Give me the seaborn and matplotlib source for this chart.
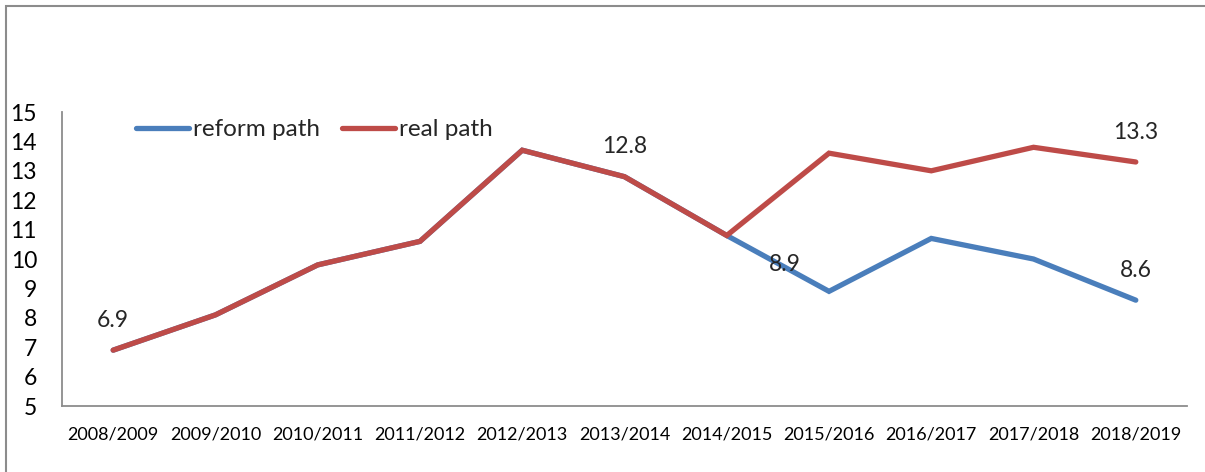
import matplotlib
matplotlib.use("Agg")
import matplotlib.pyplot as plt
import seaborn as sns
import pandas as pd
from matplotlib.patches import Rectangle

years = ["2008/2009", "2009/2010", "2010/2011", "2011/2012", "2012/2013", "2013/2014",
         "2014/2015", "2015/2016", "2016/2017", "2017/2018", "2018/2019"]
real_path = [6.9, 8.1, 9.8, 10.6, 13.7, 12.8, 10.8, 13.6, 13.0, 13.8, 13.3]
reform_path = [6.9, 8.1, 9.8, 10.6, 13.7, 12.8, 10.8, 8.9, 10.7, 10.0, 8.6]
y_ticks = [5, 6, 7, 8, 9, 10, 11, 12, 13, 14, 15]

# years whose values get a text label
labels_real = [0, 5, 10]
labels_reform = [7, 10]

sns.set_theme(style="white")
plt.rcParams["font.family"] = ["Lato", "DejaVu Sans"]

df = pd.DataFrame({
    "year": years * 2,
    "value": reform_path + real_path,
    "series": ["reform path"] * len(years) + ["real path"] * len(years),
})

fig = plt.figure(figsize=(12.05, 4.72), dpi=100)
ax = fig.add_axes([0.0515, 0.1398, 0.9335, 0.6229])

palette = {"reform path": "#4A7EBB", "real path": "#BE4B48"}
sns.lineplot(data=df, x="year", y="value", hue="series", palette=palette,
             hue_order=["reform path", "real path"], sort=False,
             linewidth=3.8, ax=ax, legend=True)
for line in ax.get_lines():
    line.set_solid_capstyle("round")
    line.set_solid_joinstyle("miter")

ax.set_xlim(-0.5, len(years) - 0.5)
ax.set_ylim(5, 15)
ax.set_yticks(y_ticks)
ax.set_yticklabels([str(t) for t in y_ticks], fontsize=16.5, color="black")
ax.tick_params(axis="y", length=0, pad=18)
ax.tick_params(axis="x", length=0, pad=15, labelsize=13, labelcolor="black")
ax.set_xlabel("")
ax.set_ylabel("")

for side in ["top", "right"]:
    ax.spines[side].set_visible(False)
for side in ["left", "bottom"]:
    ax.spines[side].set_color("#8C8C8C")
    ax.spines[side].set_linewidth(1.3)

label_style = dict(textcoords="offset points", ha="center", va="bottom", fontsize=16.5)
for i in labels_real:
    ax.annotate(f"{real_path[i]:.1f}", (i, real_path[i]), xytext=(0, 14), **label_style)
for i in labels_reform:
    dx = -32 if i == 7 else 0
    dy = 12 if i == 7 else 14
    ax.annotate(f"{reform_path[i]:.1f}", (i, reform_path[i]), xytext=(dx, dy), **label_style)

leg = ax.legend(loc="center left", bbox_to_anchor=(0.057, 0.94), ncol=2,
                frameon=False, fontsize=17.5, handlelength=2.2, handletextpad=0.15,
                columnspacing=0.9, borderaxespad=0)
for h in leg.get_lines():
    h.set_linewidth(3.8)
    h.set_solid_capstyle("round")

fig.patches.append(Rectangle((6 / 1205, -0.1), 1.2, 1 - 6 / 472 + 0.1,
                             transform=fig.transFigure, fill=False,
                             edgecolor="#8C8C8C", linewidth=1.5))

fig.savefig("out.png", dpi=100)
